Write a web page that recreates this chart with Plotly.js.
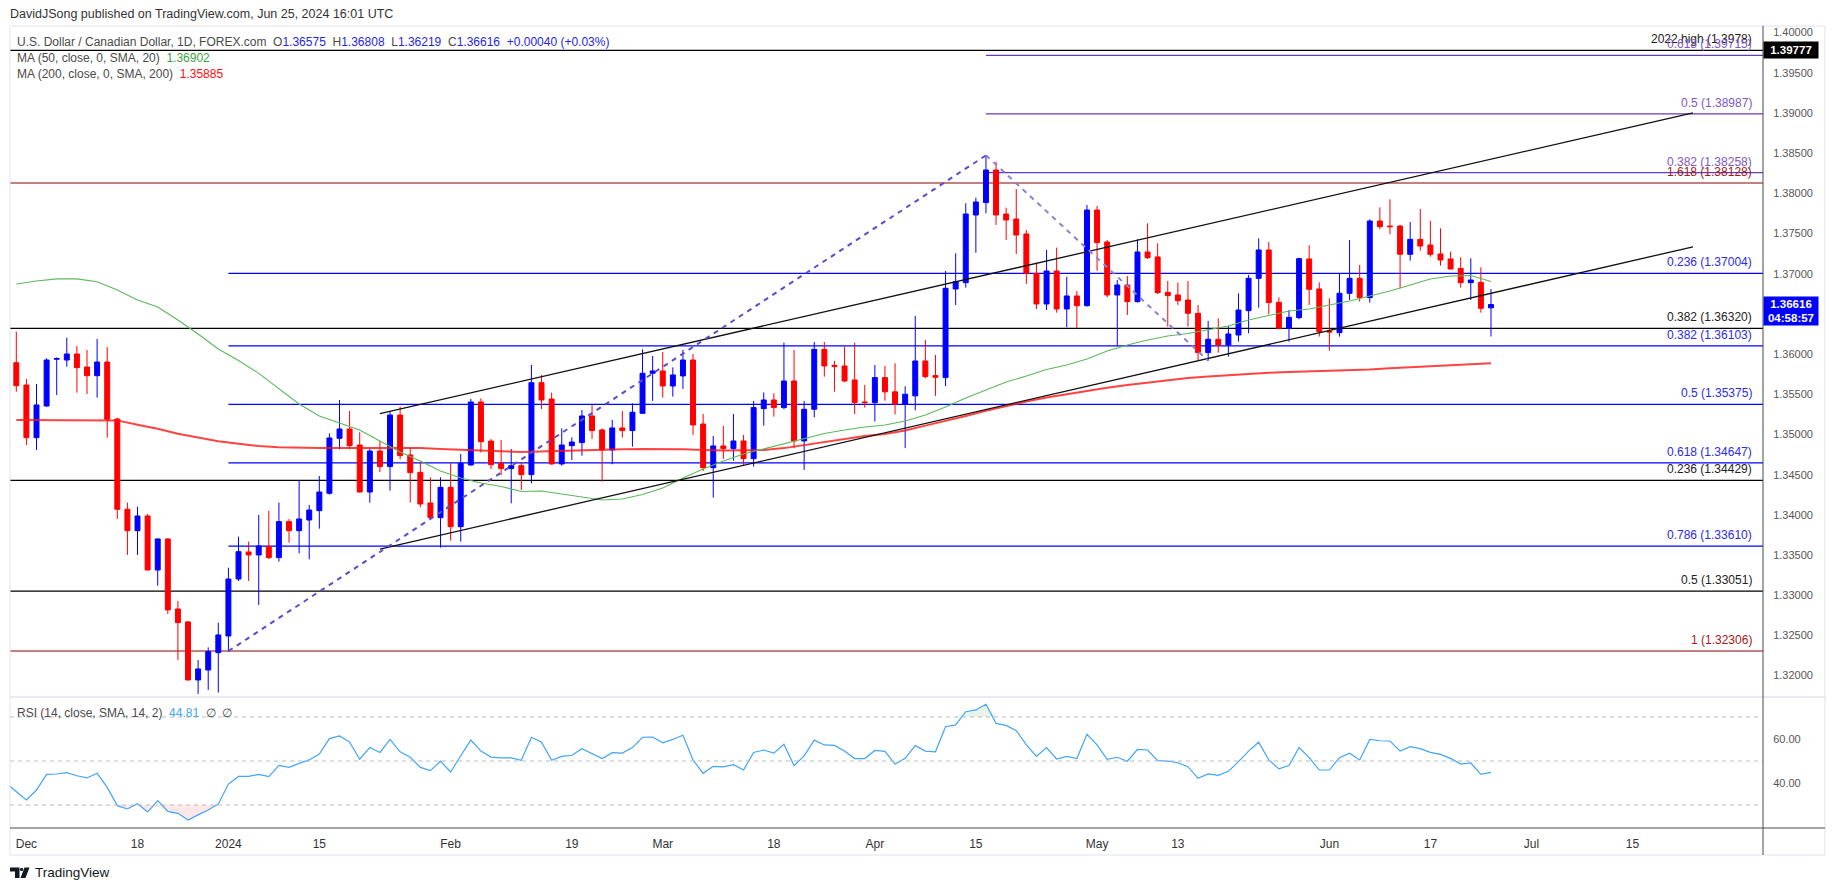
<!DOCTYPE html>
<html><head><meta charset="utf-8">
<script src="https://cdn.plot.ly/plotly-3.0.1.min.js"></script>
<style>html,body{margin:0;padding:0;background:#fff;}#chart{width:1835px;height:891px;}</style>
</head><body><div id="chart"></div>
<script>
// ---------------- DATA ----------------
const START_DATE = '2023-11-30';       // first daily bar
const RSI_START_DATE = '2023-11-29';   // RSI line enters from one bar earlier
const HOLIDAYS = ['2023-12-25', '2024-01-01'];

const open = [
1.35893,1.35615,1.34960,1.35354,1.35935,1.35926,1.36001,1.35839,1.35731,1.35901,
1.35192,1.34069,1.33803,1.33986,1.33314,1.33700,1.32829,1.32668,1.31946,1.32070,
1.32286,1.32493,1.33202,1.33538,1.33501,1.33605,1.33468,1.33916,1.33803,1.33936,
1.34052,1.34268,1.34952,1.35068,1.34869,1.34284,1.34794,1.34600,1.35242,1.34745,
1.34529,1.34148,1.33965,1.34342,1.33853,1.34620,1.35404,1.34918,1.34641,1.34575,
1.34612,1.34500,1.35644,1.35441,1.34633,1.34861,1.34898,1.35230,1.35056,1.34807,
1.35081,1.35048,1.35263,1.35761,1.35790,1.35603,1.35728,1.35926,1.35130,1.34587,
1.34857,1.34824,1.34919,1.34699,1.35321,1.35429,1.35334,1.35665,1.34919,1.35313,
1.36059,1.35860,1.35852,1.35678,1.35404,1.35396,1.35707,1.35530,1.35380,1.35480,
1.35914,1.35732,1.35707,1.36810,1.36888,1.37730,1.37884,1.38290,1.37742,1.37680,
1.37494,1.37004,1.36623,1.37033,1.36561,1.36723,1.36602,1.37792,1.37394,1.36735,
1.36859,1.36652,1.37270,1.37208,1.36768,1.36735,1.36672,1.36507,1.36018,1.36184,
1.36113,1.36237,1.36540,1.36942,1.37295,1.36644,1.36320,1.36453,1.37183,1.36810,
1.36287,1.36266,1.36756,1.36942,1.36702,1.37655,1.37593,1.37593,1.37241,1.37427,
1.37357,1.37245,1.37183,1.37066,1.36888,1.36892,1.36575];
const high = [
1.36279,1.35690,1.35628,1.35947,1.35959,1.36204,1.36100,1.36051,1.36187,1.36088,
1.35209,1.34152,1.34102,1.34011,1.33708,1.33708,1.32929,1.32680,1.32195,1.32352,
1.32659,1.33343,1.33729,1.33667,1.33998,1.34052,1.34152,1.33949,1.34425,1.34123,
1.34483,1.35014,1.35429,1.35292,1.35027,1.34828,1.34919,1.35284,1.35346,1.34836,
1.34662,1.34467,1.34467,1.34641,1.34757,1.35441,1.35450,1.34944,1.34931,1.34819,
1.34653,1.35864,1.35740,1.35520,1.35076,1.34964,1.35304,1.35367,1.35077,1.35180,
1.35292,1.35387,1.36059,1.35976,1.36026,1.35835,1.36051,1.36001,1.35255,1.34981,
1.35106,1.35255,1.34994,1.35417,1.35524,1.35512,1.36142,1.36051,1.35417,1.36150,
1.36150,1.35914,1.36092,1.36142,1.35616,1.35864,1.35852,1.35885,1.35600,1.36474,
1.36175,1.35989,1.37033,1.37253,1.37875,1.37946,1.38476,1.38393,1.37821,1.38053,
1.37543,1.37137,1.37295,1.37324,1.36963,1.36785,1.37854,1.37842,1.37419,1.36921,
1.36971,1.37427,1.37626,1.37378,1.36909,1.36892,1.36909,1.36611,1.36412,1.36445,
1.36349,1.36756,1.36984,1.37440,1.37394,1.36706,1.36548,1.37199,1.37353,1.36892,
1.36693,1.36996,1.37419,1.37108,1.37676,1.37825,1.37925,1.37606,1.37643,1.37805,
1.37659,1.37564,1.37274,1.37203,1.37191,1.37079,1.36808];
const low = [
1.35532,1.34869,1.34807,1.35346,1.35491,1.35843,1.35520,1.35503,1.35458,1.34960,
1.33949,1.33501,1.33501,1.33310,1.33119,1.32767,1.32195,1.31940,1.31772,1.31822,
1.31789,1.32299,1.33177,1.33177,1.32879,1.33451,1.33418,1.33654,1.33521,1.33447,
1.33828,1.34251,1.34815,1.34815,1.34276,1.34152,1.34533,1.34301,1.34691,1.34152,
1.34094,1.33960,1.33592,1.33679,1.33667,1.34612,1.34774,1.34570,1.34492,1.34143,
1.34309,1.34392,1.35317,1.34625,1.34612,1.34682,1.34736,1.34944,1.34413,1.34629,
1.34960,1.34848,1.35255,1.35417,1.35458,1.35470,1.35566,1.34994,1.34546,1.34214,
1.34695,1.34674,1.34608,1.34600,1.35110,1.35222,1.35313,1.34828,1.34558,1.35213,
1.35719,1.35533,1.35649,1.35255,1.35334,1.35160,1.35420,1.35250,1.34830,1.35300,
1.35698,1.35480,1.35600,1.36611,1.36826,1.37261,1.37751,1.37606,1.37419,1.37245,
1.36872,1.36561,1.36548,1.36515,1.36333,1.36320,1.36590,1.37038,1.36706,1.36101,
1.36486,1.36640,1.37183,1.36747,1.36341,1.36611,1.36341,1.35918,1.35918,1.36018,
1.35968,1.36154,1.36258,1.36577,1.36494,1.36308,1.36154,1.36432,1.36611,1.36217,
1.36043,1.36217,1.36673,1.36652,1.36640,1.37552,1.37489,1.36818,1.37162,1.37286,
1.37212,1.37100,1.37054,1.36826,1.36673,1.36515,1.36219];
const close = [
1.35607,1.34960,1.35367,1.35926,1.35945,1.36001,1.35831,1.35731,1.35901,1.35188,
1.34069,1.33803,1.33986,1.33314,1.33700,1.32817,1.32659,1.31946,1.32083,1.32299,
1.32506,1.33202,1.33542,1.33501,1.33613,1.33468,1.33916,1.33803,1.33949,1.34060,
1.34284,1.34956,1.35068,1.34861,1.34284,1.34794,1.34600,1.35242,1.34736,1.34525,
1.34135,1.33965,1.34342,1.33853,1.34641,1.35404,1.34910,1.34624,1.34575,1.34612,
1.34500,1.35644,1.35429,1.34633,1.34869,1.34906,1.35230,1.35048,1.34807,1.35081,
1.35048,1.35276,1.35761,1.35790,1.35603,1.35740,1.35926,1.35118,1.34587,1.34857,
1.34824,1.34919,1.34699,1.35334,1.35429,1.35334,1.35665,1.34919,1.35313,1.36059,
1.35852,1.35844,1.35665,1.35396,1.35396,1.35707,1.35530,1.35380,1.35500,1.35914,
1.35719,1.35711,1.36818,1.36901,1.37742,1.37892,1.38290,1.37730,1.37668,1.37481,
1.37004,1.36623,1.37033,1.36561,1.36723,1.36602,1.37792,1.37386,1.36735,1.36859,
1.36652,1.37270,1.37199,1.36764,1.36727,1.36664,1.36507,1.36018,1.36184,1.36113,
1.36250,1.36548,1.36942,1.37295,1.36640,1.36320,1.36457,1.37187,1.36805,1.36279,
1.36275,1.36756,1.36942,1.36702,1.37655,1.37585,1.37585,1.37241,1.37427,1.37344,
1.37241,1.37170,1.37058,1.36888,1.36921,1.36569,1.36616];

// moving averages, read every second bar starting at the first bar
const ma50 = [
1.36872,1.36909,1.36935,1.36935,1.36900,1.36797,1.36673,1.36585,1.36424,1.36250,
1.36063,1.35920,1.35760,1.35565,1.35379,1.35230,1.35142,1.35055,1.34919,1.34782,
1.34670,1.34545,1.34458,1.34396,1.34353,1.34290,1.34297,1.34259,1.34222,1.34185,
1.34197,1.34253,1.34334,1.34458,1.34570,1.34670,1.34757,1.34819,1.34881,1.34943,
1.35012,1.35055,1.35093,1.35118,1.35167,1.35242,1.35342,1.35453,1.35553,1.35652,
1.35727,1.35808,1.35864,1.35939,1.36038,1.36113,1.36175,1.36225,1.36256,1.36299,
1.36349,1.36424,1.36480,1.36536,1.36561,1.36610,1.36660,1.36722,1.36784,1.36859,
1.36934,1.36971,1.36977,1.36902];
const ma200 = [
1.35180,1.35180,1.35180,1.35180,1.35178,1.35175,1.35120,1.35070,1.35010,1.34960,
1.34915,1.34885,1.34855,1.34840,1.34831,1.34830,1.34830,1.34832,1.34835,1.34835,
1.34831,1.34820,1.34808,1.34798,1.34790,1.34782,1.34790,1.34800,1.34807,1.34812,
1.34815,1.34819,1.34819,1.34815,1.34808,1.34800,1.34802,1.34807,1.34830,1.34869,
1.34910,1.34950,1.34980,1.35006,1.35050,1.35110,1.35167,1.35230,1.35295,1.35354,
1.35410,1.35460,1.35503,1.35545,1.35580,1.35615,1.35645,1.35675,1.35702,1.35722,
1.35740,1.35758,1.35768,1.35776,1.35783,1.35792,1.35800,1.35808,1.35822,1.35837,
1.35852,1.35862,1.35873,1.35885];

const rsi = [
39.9,35.9,32.3,36.8,43.9,44.1,44.7,43.3,42.3,44.4,38.0,
29.7,28.2,30.6,26.8,32.0,27.1,26.2,23.2,25.5,27.7,
30.5,39.5,43.0,43.0,43.9,42.9,48.0,47.1,48.9,50.5,
53.2,60.2,61.4,58.6,50.8,56.1,53.9,59.8,54.2,51.7,
47.1,45.6,49.9,45.0,52.4,59.5,54.5,51.8,51.4,51.4,
50.3,60.8,58.5,50.3,52.1,52.6,55.6,53.5,51.1,53.8,
53.6,56.1,60.8,60.9,58.3,59.8,61.7,50.5,44.4,47.6,
47.3,48.3,45.9,53.9,55.0,53.6,57.6,47.9,52.3,59.5,
57.3,57.1,54.5,51.1,51.1,54.8,54.4,48.6,51.2,57.0,
54.5,54.2,65.6,66.4,72.4,73.2,75.8,67.1,66.2,63.8,
57.3,52.1,56.1,50.9,52.1,51.1,62.1,57.3,50.8,51.7,
49.9,55.3,55.0,50.2,49.9,49.2,47.4,42.1,44.1,43.5,
45.3,49.7,54.5,58.5,50.5,46.4,47.9,56.1,51.5,45.9,
45.9,51.5,53.5,50.5,59.8,59.2,59.1,54.5,56.5,55.6,
53.9,53.0,51.2,48.6,49.1,43.9,44.81];

// Fibonacci / reference levels
const blackLevels = [1.39777, 1.36320, 1.34429, 1.33051];
const blackLabels = ['2022 high (1.3978)', '0.382 (1.36320)', '0.236 (1.34429)', '0.5 (1.33051)'];
const redLevels = [1.38128, 1.32306];
const redLabels = ['1.618 (1.38128)', '1 (1.32306)'];
const purpleLevels = [1.39715, 1.38987, 1.38258];
const purpleLabels = ['0.618 (1.39715)', '0.5 (1.38987)', '0.382 (1.38258)'];
const purpleStart = '2024-04-16';
const blueLevels = [1.37004, 1.36103, 1.35375, 1.34647, 1.33610];
const blueLabels = ['0.236 (1.37004)', '0.382 (1.36103)', '0.5 (1.35375)', '0.618 (1.34647)', '0.786 (1.33610)'];
const blueStart = '2024-01-02';

// trend channel and swing lines
const channelDates = ['2024-01-23', '2024-07-23'];
const channelUpper = [1.35258, 1.39000];
const channelLower = [1.33575, 1.37334];
const swingUpDates = ['2024-01-02', '2024-04-16'];
const swingUpPrices = [1.32306, 1.38472];
const swingDownDates = ['2024-04-16', '2024-05-16'];
const swingDownPrices = [1.38472, 1.35918];

// axis ticks (1.36500 is hidden behind the last-price tag in the reference)
const xTickDates = ['2023-12-01','2023-12-18','2024-01-02','2024-01-15','2024-02-01','2024-02-19','2024-03-01','2024-03-18','2024-04-01','2024-04-15','2024-05-01','2024-05-13','2024-06-03','2024-06-17','2024-07-01','2024-07-15'];
const xTickText = ['Dec','18','2024','15','Feb','19','Mar','18','Apr','15','May','13','Jun','17','Jul','15'];
const priceTicks = [1.32,1.325,1.33,1.335,1.34,1.345,1.35,1.355,1.36,1.37,1.375,1.38,1.385,1.39,1.395,1.40];
const rsiTicks = [40, 60];
const lastClose = 1.36616;
const highTag = 1.39777;
const countdown = '04:58:57';

// ---------------- helpers ----------------
const DAY = 86400000;
function parseD(s){const a=s.split('-').map(Number);return Date.UTC(a[0],a[1]-1,a[2]);}
function fmt(t){return new Date(t).toISOString().slice(0,10);}
function isTrading(t){const wd=new Date(t).getUTCDay();return wd!==0&&wd!==6&&!HOLIDAYS.includes(fmt(t));}
function tradingDates(start,n){const out=[];let t=parseD(start);while(out.length<n){if(isTrading(t))out.push(fmt(t));t+=DAY;}return out;}
function barIndex(s){
  const t0=parseD(START_DATE), t=parseD(s); let k=0;
  if(t>=t0){for(let u=t0;u<t;u+=DAY) if(isTrading(u)) k++; return k;}
  for(let u=t;u<t0;u+=DAY) if(isTrading(u)) k--; return k;
}
const dates = tradingDates(START_DATE, open.length);
const xBars = dates.map(barIndex);
const maX = xBars.filter((_,k)=>k%2===0);
const rsiX = tradingDates(RSI_START_DATE, rsi.length).map(barIndex);

// pixel -> paper layout helpers (layout positions only)
const Lp=10, Rp=1763, Tp=26, Bp=828;
const px = x => (x-Lp)/(Rp-Lp);
const py = y => (Bp-y)/(Bp-Tp);
const PANE = py(697);
const XR = [-0.624, 172.93];
const FONT = 'Liberation Sans, Arial, sans-serif';

// ---------------- traces ----------------
const traces = [];
traces.push({type:'scatter',mode:'lines',x:maX,y:ma200,xaxis:'x',yaxis:'y',line:{color:'rgba(255,20,20,0.8)',width:2},hoverinfo:'skip'});
traces.push({type:'scatter',mode:'lines',x:maX,y:ma50,xaxis:'x',yaxis:'y',line:{color:'#5cb85c',width:1.1},hoverinfo:'skip'});
traces.push({type:'candlestick',x:xBars,open:open,high:high,low:low,close:close,xaxis:'x',yaxis:'y',
  increasing:{line:{color:'#0000ff',width:1},fillcolor:'#0000ff'},
  decreasing:{line:{color:'#ff0000',width:1},fillcolor:'#ff0000'},whiskerwidth:0,hoverinfo:'skip'});
traces.push({type:'scatter',mode:'lines',x:channelDates.map(barIndex),y:channelUpper,line:{color:'#111',width:1.3},hoverinfo:'skip'});
traces.push({type:'scatter',mode:'lines',x:channelDates.map(barIndex),y:channelLower,line:{color:'#111',width:1.3},hoverinfo:'skip'});
traces.push({type:'scatter',mode:'lines',x:swingUpDates.map(barIndex),y:swingUpPrices,line:{color:'#5b4ccc',width:2,dash:'5px,5px'},hoverinfo:'skip'});
traces.push({type:'scatter',mode:'lines',x:swingDownDates.map(barIndex),y:swingDownPrices,line:{color:'#8a82d4',width:2,dash:'5px,5px'},hoverinfo:'skip'});

// RSI with overbought / oversold shading
const lo = rsi.map(()=>30), hi = rsi.map(()=>70);
traces.push({type:'scatter',mode:'lines',x:rsiX,y:lo,xaxis:'x',yaxis:'y2',line:{width:0},hoverinfo:'skip'});
traces.push({type:'scatter',mode:'lines',x:rsiX,y:rsi.map(v=>Math.min(v,30)),xaxis:'x',yaxis:'y2',line:{width:0},fill:'tonexty',fillcolor:'rgba(242,54,69,0.12)',hoverinfo:'skip'});
traces.push({type:'scatter',mode:'lines',x:rsiX,y:hi,xaxis:'x',yaxis:'y2',line:{width:0},hoverinfo:'skip'});
traces.push({type:'scatter',mode:'lines',x:rsiX,y:rsi.map(v=>Math.max(v,70)),xaxis:'x',yaxis:'y2',line:{width:0},fill:'tonexty',fillcolor:'rgba(76,175,80,0.12)',hoverinfo:'skip'});
traces.push({type:'scatter',mode:'lines',x:rsiX,y:rsi,xaxis:'x',yaxis:'y2',line:{color:'#42a5f5',width:1.2},hoverinfo:'skip'});

// ---------------- shapes & annotations ----------------
const shapes = [], ann = [];
function level(vals, labels, color, txtColor, startDate){
  vals.forEach((v,k)=>{
    if(startDate) shapes.push({type:'line',xref:'x',yref:'y',x0:barIndex(startDate),x1:XR[1],y0:v,y1:v,line:{color:color,width:1.2},layer:'below'});
    else shapes.push({type:'line',xref:'paper',yref:'y',x0:0,x1:1,y0:v,y1:v,line:{color:color,width:1.2},layer:'below'});
    ann.push({xref:'paper',yref:'y',x:px(1754),y:v,xanchor:'right',yanchor:'bottom',yshift:2,showarrow:false,
      text:labels[k],font:{family:FONT,size:12,color:txtColor}});
  });
}
level(blackLevels, blackLabels, '#000000', '#222', null);
level(redLevels, redLabels, '#8b0000', '#a01818', null);
level(blueLevels, blueLabels, '#0000ff', '#2a2ae8', blueStart);
level(purpleLevels, purpleLabels, '#673ab7', '#7e57c2', purpleStart);

// RSI guide lines
[70,50,30].forEach(v=>shapes.push({type:'line',xref:'paper',yref:'y2',x0:0,x1:1,y0:v,y1:v,line:{color:'#b8bbc2',width:1,dash:'4px,4px'}}));

// frame / separators
shapes.push({type:'rect',xref:'paper',yref:'paper',x0:px(10),x1:px(1825),y0:py(855),y1:py(26),line:{color:'#e0e3eb',width:1}});
shapes.push({type:'line',xref:'paper',yref:'paper',x0:px(10),x1:px(1825),y0:PANE,y1:PANE,line:{color:'#e0e3eb',width:1.5}});
shapes.push({type:'line',xref:'paper',yref:'paper',x0:px(10),x1:px(1825),y0:0,y1:0,line:{color:'#4a4a4a',width:1}});
shapes.push({type:'line',xref:'paper',yref:'paper',x0:1,x1:1,y0:py(855),y1:py(26),line:{color:'#4a4a4a',width:1}});

// TradingView logo (simple glyph)
function pathPx(pts){return 'M'+pts.map(p=>px(p[0])+','+py(p[1])).join(' L')+' Z';}
shapes.push({type:'path',xref:'paper',yref:'paper',path:pathPx([[10,867.5],[19.5,867.5],[19.5,878],[15,878],[15,871.5],[10,871.5]]),fillcolor:'#131722',line:{width:0}});
shapes.push({type:'circle',xref:'paper',yref:'paper',x0:px(20),x1:px(23.2),y0:py(871),y1:py(867.8),fillcolor:'#131722',line:{width:0}});
shapes.push({type:'path',xref:'paper',yref:'paper',path:pathPx([[24.5,867.5],[29.5,867.5],[25.5,878],[20.5,878]]),fillcolor:'#131722',line:{width:0}});

const gray = '#4a4a4a', val = '#2525e6';
const sp = '\u00a0\u00a0';
ann.push({xref:'paper',yref:'paper',x:px(8),y:py(14),xanchor:'left',yanchor:'middle',showarrow:false,
  text:'DavidJSong published on TradingView.com, Jun 25, 2024 16:01 UTC',font:{family:FONT,size:12.5,color:'#333'}});
ann.push({xref:'paper',yref:'paper',x:px(15),y:py(42),xanchor:'left',yanchor:'middle',showarrow:false,
  text:'U.S. Dollar / Canadian Dollar, 1D, FOREX.com'+sp+'O<span style="color:'+val+'">'+open[open.length-1].toFixed(5)+'</span>'+sp+
  'H<span style="color:'+val+'">'+high[high.length-1].toFixed(5)+'</span>'+sp+'L<span style="color:'+val+'">'+low[low.length-1].toFixed(5)+'</span>'+sp+
  'C<span style="color:'+val+'">'+close[close.length-1].toFixed(5)+'</span>'+sp+'<span style="color:'+val+'">+0.00040 (+0.03%)</span>',
  font:{family:FONT,size:12,color:gray}});
ann.push({xref:'paper',yref:'paper',x:px(15),y:py(58),xanchor:'left',yanchor:'middle',showarrow:false,
  text:'MA (50, close, 0, SMA, 20)'+sp+'<span style="color:#3aa33f">'+ma50[ma50.length-1].toFixed(5)+'</span>',font:{family:FONT,size:12,color:gray}});
ann.push({xref:'paper',yref:'paper',x:px(15),y:py(74),xanchor:'left',yanchor:'middle',showarrow:false,
  text:'MA (200, close, 0, SMA, 200)'+sp+'<span style="color:#ff1010">'+ma200[ma200.length-1].toFixed(5)+'</span>',font:{family:FONT,size:12,color:gray}});
ann.push({xref:'paper',yref:'paper',x:px(15),y:py(713),xanchor:'left',yanchor:'middle',showarrow:false,
  text:'RSI (14, close, SMA, 14, 2)'+sp+'<span style="color:#42a5f5">'+rsi[rsi.length-1].toFixed(2)+'</span>'+sp+'\u2205'+sp+'\u2205',font:{family:FONT,size:12,color:gray}});
ann.push({xref:'paper',yref:'paper',x:px(33),y:py(873),xanchor:'left',yanchor:'middle',showarrow:false,
  text:'TradingView',font:{family:FONT,size:13.5,color:'#131722'}});

// price tags on the axis
ann.push({xref:'paper',yref:'y',x:1,y:highTag,xanchor:'left',yanchor:'middle',showarrow:false,
  text:'<b>'+highTag.toFixed(5)+'</b>',bgcolor:'#000',font:{family:FONT,size:11.5,color:'#fff'},width:52,height:14,borderpad:1,align:'center'});
ann.push({xref:'paper',yref:'y',x:1,y:lastClose,xanchor:'left',yanchor:'top',yshift:9,showarrow:false,
  text:'<b>'+lastClose.toFixed(5)+'</b><br><b>'+countdown+'</b>',bgcolor:'#0000ff',font:{family:FONT,size:11.5,color:'#fff'},width:52,height:26,borderpad:1,align:'center'});

const layout = {
  width:1835, height:891, paper_bgcolor:'#fff', plot_bgcolor:'#fff',
  margin:{l:Lp, r:1835-Rp, t:Tp, b:891-Bp},
  showlegend:false, hovermode:false, font:{family:FONT,color:'#333'},
  xaxis:{type:'linear',range:XR,anchor:'y2',showgrid:false,zeroline:false,showline:false,
    tickmode:'array',tickvals:xTickDates.map(barIndex),ticktext:xTickText,ticks:'outside',ticklen:5,tickcolor:'rgba(0,0,0,0)',
    tickfont:{family:FONT,size:12,color:'#333'},rangeslider:{visible:false},fixedrange:true},
  yaxis:{domain:[PANE,1],range:[1.317341,1.400809],side:'right',anchor:'x',showgrid:false,zeroline:false,showline:false,
    tickmode:'array',tickvals:priceTicks,ticktext:priceTicks.map(v=>v.toFixed(5)),ticks:'outside',ticklen:7,tickcolor:'rgba(0,0,0,0)',
    tickfont:{family:FONT,size:11,color:'#555'}},
  yaxis2:{domain:[0,PANE],range:[19.545,79.09],side:'right',anchor:'x',showgrid:false,zeroline:false,showline:false,
    tickmode:'array',tickvals:rsiTicks,ticktext:rsiTicks.map(v=>v.toFixed(2)),ticks:'outside',ticklen:7,tickcolor:'rgba(0,0,0,0)',
    tickfont:{family:FONT,size:11,color:'#555'}},
  shapes:shapes, annotations:ann
};
Plotly.newPlot('chart', traces, layout, {staticPlot:true,displayModeBar:false});
</script></body></html>
